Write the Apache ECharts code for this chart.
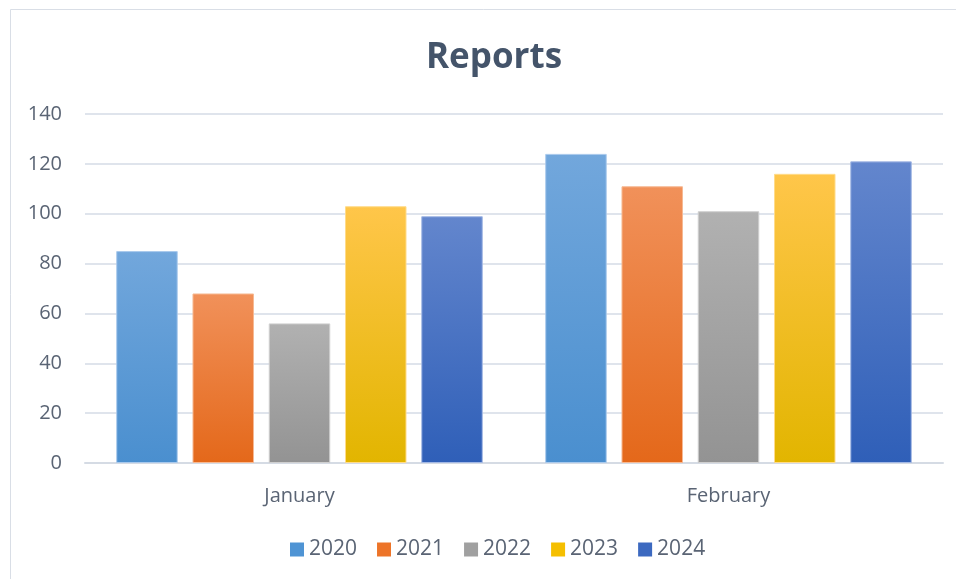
<!DOCTYPE html>
<html>
<head>
<meta charset="utf-8">
<script src="https://cdn.jsdelivr.net/npm/echarts@6/dist/echarts.min.js"></script>
<style>html,body{margin:0;padding:0;background:#fff;}#c{width:956px;height:579px;}</style>
</head>
<body>
<div id="c"></div>
<script>
var categories = ['January', 'February'];
var seriesNames = ['2020', '2021', '2022', '2023', '2024'];
var v2020 = [85, 124];
var v2021 = [68, 111];
var v2022 = [56, 101];
var v2023 = [103, 116];
var v2024 = [99, 121];
var yTicks = [0, 20, 40, 60, 80, 100, 120, 140];

var values = [v2020, v2021, v2022, v2023, v2024];
var gradTop = ['#72a7dc', '#f1915a', '#b1b1b1', '#ffc64a', '#6386cd'];
var gradBot = ['#4a8fcf', '#e4681a', '#939393', '#e2b500', '#2f5fb8'];
var legendCol = ['#4f94d4', '#ed7428', '#a0a0a0', '#f5bf00', '#3c69c0'];
var borderCol = ['#a9c9ec', '#f6b993', '#cfcfcf', '#ffdb8a', '#a3b8e4'];

var font = '"Open Sans", "Noto Sans", sans-serif';
var chart = echarts.init(document.getElementById('c'), null, {renderer: 'canvas'});
var series = seriesNames.map(function (n, i) {
  return {
    name: n,
    type: 'bar',
    data: values[i],
    barWidth: 61.5,
    barGap: '24%',
    itemStyle: {
      color: new echarts.graphic.LinearGradient(0, 0, 0, 1, [
        {offset: 0, color: gradTop[i]},
        {offset: 1, color: gradBot[i]}
      ]),
      borderColor: borderCol[i],
      borderWidth: 1
    }
  };
});

chart.setOption({
  animation: false,
  backgroundColor: '#ffffff',
  graphic: [{
    type: 'rect',
    shape: {x: 10.5, y: 9.5, width: 960, height: 600},
    style: {fill: 'none', stroke: '#d9dee6', lineWidth: 1},
    silent: true
  }],
  title: {
    text: 'Reports',
    left: 489,
    textAlign: 'center',
    top: 36,
    textStyle: {fontFamily: font, fontSize: 35, fontWeight: 'bold', color: '#44546a'}
  },
  legend: {
    left: 285,
    top: 534,
    itemWidth: 14,
    itemHeight: 14,
    itemGap: 20,
    icon: 'rect',
    textStyle: {fontFamily: font, fontSize: 21, color: '#5a6474'},
    data: seriesNames.map(function (n, i) {
      return {name: n, itemStyle: {color: legendCol[i], borderWidth: 0}};
    })
  },
  grid: {left: 85, right: 13, top: 114, bottom: 116, containLabel: false},
  xAxis: {
    type: 'category',
    data: categories,
    axisTick: {show: false},
    axisLine: {lineStyle: {color: '#d5dbe4', width: 2}},
    axisLabel: {fontFamily: font, fontSize: 20, color: '#5a6474', margin: 23}
  },
  yAxis: {
    type: 'value',
    min: 0,
    max: 140,
    interval: 20,
    axisLine: {show: false},
    axisTick: {show: false},
    splitLine: {lineStyle: {color: '#dfe4ec', width: 2}},
    axisLabel: {fontFamily: font, fontSize: 20, color: '#5a6474', margin: 23,
      formatter: function (v) { return yTicks.indexOf(v) >= 0 ? String(v) : ''; }}
  },
  series: series
});
</script>
</body>
</html>
